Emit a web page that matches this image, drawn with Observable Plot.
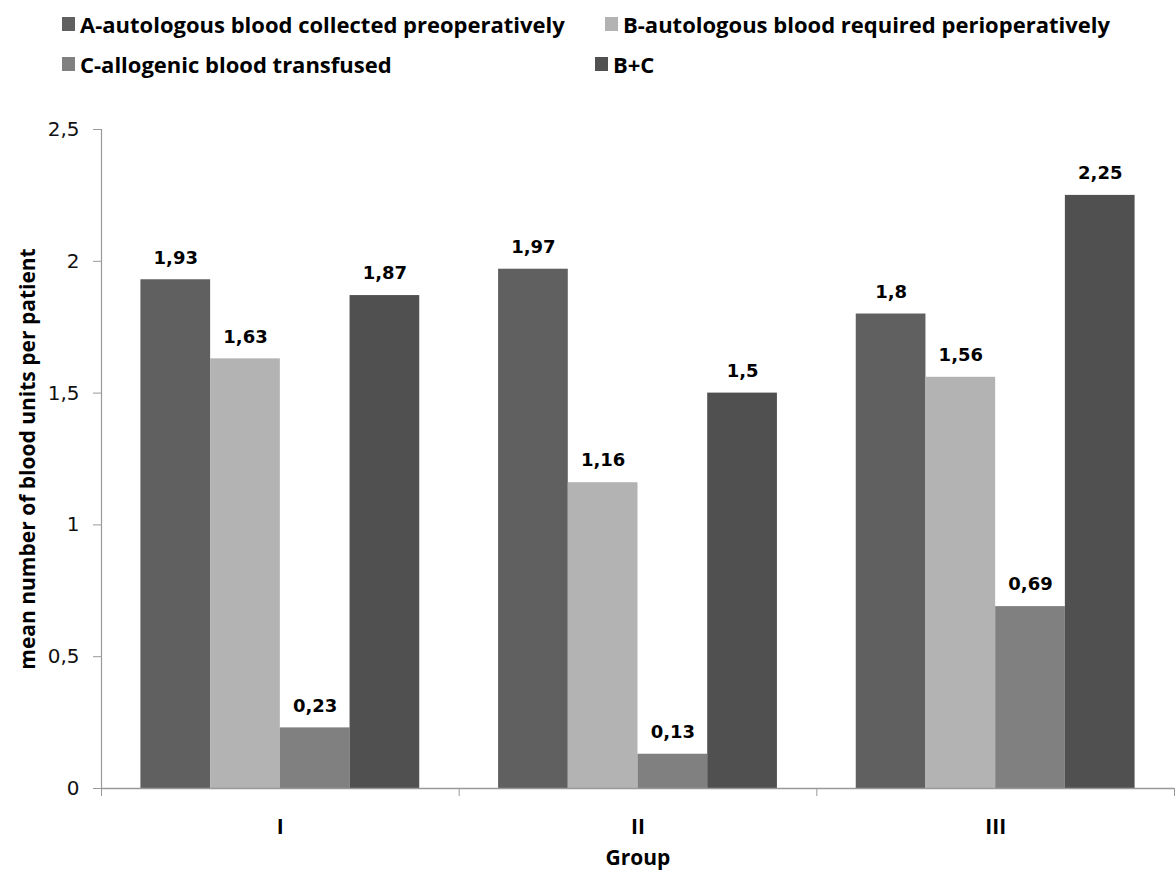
<!DOCTYPE html>
<html>
<head>
<meta charset="utf-8">
<script src="https://cdn.jsdelivr.net/npm/d3@7"></script>
<script src="https://cdn.jsdelivr.net/npm/@observablehq/plot@0.6"></script>
<style>
  html, body { margin: 0; padding: 0; background: #fff; }
  #wrap { width: 1175px; height: 879px; position: relative; overflow: hidden; }
  #legend { position: relative; height: 95px; width: 1175px; font-family: "Open Sans", Lato, sans-serif; font-weight: 700; font-size: 22px; color: #000; }
  .item { position: absolute; display: flex; align-items: center; white-space: nowrap; line-height: 30px; }
  .sw { width: 13px; height: 14px; margin-right: 5px; }
  #chart svg { display: block; }
</style>
</head>
<body>
<div id="wrap">
  <div id="legend"></div>
  <div id="chart"></div>
</div>
<script>
// ---- data ----
const groups = ["I", "II", "III"];
const seriesNames = [
  "A-autologous blood collected preoperatively",
  "B-autologous blood required perioperatively",
  "C-allogenic blood transfused",
  "B+C"
];
const valuesA = [1.93, 1.97, 1.8];
const valuesB = [1.63, 1.16, 1.56];
const valuesC = [0.23, 0.13, 0.69];
const valuesBC = [1.87, 1.5, 2.25];
const seriesColors = ["#606060", "#b3b3b3", "#808080", "#505050"];
const yTicks = [0, 0.5, 1, 1.5, 2, 2.5];

// ---- build table ----
const seriesValues = [valuesA, valuesB, valuesC, valuesBC];
const bw = 0.1949; // bar width in group units
const rows = [];
groups.forEach((g, gi) => {
  seriesValues.forEach((vals, si) => {
    const c = gi + 1 + (si - 1.5) * bw;
    rows.push({group: g, series: seriesNames[si], value: vals[gi], x1: c - bw / 2, x2: c + bw / 2, xc: c});
  });
});
const fmt = d => String(d).replace(".", ",");

// ---- legend ----
const legendPos = [
  {left: 62, top: 9},
  {left: 605, top: 9},
  {left: 62, top: 49},
  {left: 595, top: 49}
];
const legend = document.getElementById("legend");
seriesNames.forEach((name, i) => {
  const it = document.createElement("div");
  it.className = "item";
  it.style.left = legendPos[i].left + "px";
  it.style.top = legendPos[i].top + "px";
  it.innerHTML = `<div class="sw" style="background:${seriesColors[i]}"></div><span>${name}</span>`;
  legend.appendChild(it);
});

// ---- chart ----
const labelFont = "'Open Sans', Lato, sans-serif";
const chart = Plot.plot({
  width: 1175,
  height: 784,
  marginLeft: 101,
  marginRight: 1,
  marginTop: 34,
  marginBottom: 91,
  x: {domain: [0.5, 3.5], axis: null},
  y: {domain: [0, 2.5], axis: null},
  color: {domain: seriesNames, range: seriesColors},
  style: {background: "#fff", overflow: "visible"},
  marks: [
    Plot.rectY(rows, {x1: "x1", x2: "x2", y: "value", fill: "series"}),
    Plot.ruleX([0.5], {y1: 0, y2: 2.5, stroke: "#999", strokeWidth: 1.2}),
    Plot.ruleY([0], {stroke: "#999", strokeWidth: 1.5}),
    Plot.axisY({ticks: yTicks, tickFormat: fmt, tickSize: 8, tickPadding: 14, stroke: "#999",
      fill: "#111", fontFamily: "DejaVu Sans, Verdana, sans-serif", fontSize: 20, label: null}),
    Plot.axisX({ticks: [0.5, 1.5, 2.5, 3.5], tickSize: 8, tickFormat: () => "", stroke: "#999", label: null}),
    Plot.axisX({ticks: groups.map((g, i) => i + 1), tickSize: 0, tickPadding: 31,
      tickFormat: i => groups[i - 1], fill: "#000", fontFamily: labelFont, fontWeight: "bold", fontSize: 21, label: null}),
    Plot.text(["Group"], {frameAnchor: "bottom", dy: 70, lineAnchor: "middle", text: d => d, fontFamily: labelFont,
      fontWeight: "bold", fontSize: 21, fill: "#000"}),
    Plot.text(["mean number of blood units per patient"], {frameAnchor: "left", dx: -73, rotate: -90, text: d => d,
      textAnchor: "middle", lineAnchor: "middle",
      fontFamily: labelFont, fontWeight: "bold", fontSize: 21, fill: "#000"}),
    Plot.text(rows, {x: "xc", y: "value", text: d => fmt(d.value), dy: -22,
      fontFamily: "DejaVu Sans, Verdana, sans-serif", fontWeight: "bold", fontSize: 18, fill: "#000"})
  ]
});
document.getElementById("chart").appendChild(chart);
</script>
</body>
</html>
